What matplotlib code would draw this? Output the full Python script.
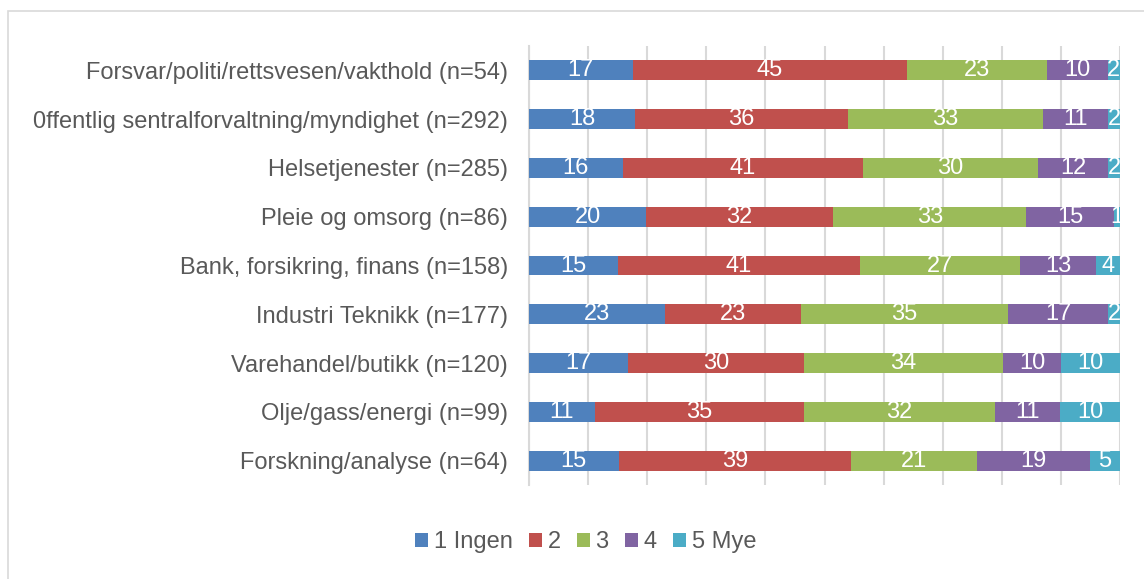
import numpy as np
import matplotlib.pyplot as plt
from matplotlib.patches import Rectangle

categories = [
    "Forsvar/politi/rettsvesen/vakthold (n=54)",
    "0ffentlig sentralforvaltning/myndighet (n=292)",
    "Helsetjenester (n=285)",
    "Pleie og omsorg (n=86)",
    "Bank, forsikring, finans (n=158)",
    "Industri Teknikk (n=177)",
    "Varehandel/butikk (n=120)",
    "Olje/gass/energi (n=99)",
    "Forskning/analyse (n=64)",
]
series_names = ["1 Ingen", "2", "3", "4", "5 Mye"]
s1 = [17, 18, 16, 20, 15, 23, 17, 11, 15]
s2 = [45, 36, 41, 32, 41, 23, 30, 35, 39]
s3 = [23, 33, 30, 33, 27, 35, 34, 32, 21]
s4 = [10, 11, 12, 15, 13, 17, 10, 11, 19]
s5 = [2, 2, 2, 1, 4, 2, 10, 10, 5]
colors = ["#4F81BD", "#C0504D", "#9BBB59", "#8064A2", "#4BACC6"]

plt.rcParams['font.family'] = ['Liberation Sans', 'DejaVu Sans']
text_col = "#595959"
grid_col = "#D9D9D9"
fs = 17

data = np.array([s1, s2, s3, s4, s5], dtype=float)
shares = data / data.sum(axis=0) * 100  # 100% stacked

fig = plt.figure(figsize=(11.44, 5.79), dpi=100)
fig.patches.append(Rectangle((8 / 1144, -0.2), 1.2, 1.2 - 11 / 579, transform=fig.transFigure,
                             fill=False, edgecolor=grid_col, linewidth=1.2))
ax = fig.add_axes([529 / 1144, 1 - 485 / 579, (1120 - 529) / 1144, (485 - 46) / 579])

y = np.arange(len(categories))
left = np.zeros(len(categories))
for i, name in enumerate(series_names):
    bars = ax.barh(y, shares[i], left=left, height=0.41, color=colors[i],
                   label=name, zorder=3, linewidth=0)
    for j, b in enumerate(bars):
        ax.text(left[j] + shares[i][j] / 2, y[j], f"{int(data[i][j])}",
                ha='center', va='center', color='white', fontsize=fs, zorder=4)
    left += shares[i]

ax.set_xlim(0, 100)
ax.set_ylim(len(categories) - 0.5, -0.5)
ax.set_xticks(np.arange(0, 101, 10))
ax.set_xticklabels([])
ax.tick_params(axis='x', length=0)
ax.tick_params(axis='y', length=0, pad=15, labelsize=fs, labelcolor=text_col)
ax.set_yticks(y)
ax.set_yticklabels(categories)
ax.grid(axis='x', color=grid_col, linewidth=1.5, zorder=0)
for sp in ['top', 'right', 'bottom']:
    ax.spines[sp].set_visible(False)
ax.spines['left'].set_color(grid_col)
ax.spines['left'].set_linewidth(1.5)

leg = fig.legend(loc='center', bbox_to_anchor=(585.5 / 1144, 1 - 542 / 579), ncol=5, frameon=False,
                 fontsize=fs, handlelength=0.55, handleheight=0.55, handletextpad=0.25,
                 columnspacing=0.68)
for t in leg.get_texts():
    t.set_color(text_col)

fig.savefig("out.png", dpi=100)
